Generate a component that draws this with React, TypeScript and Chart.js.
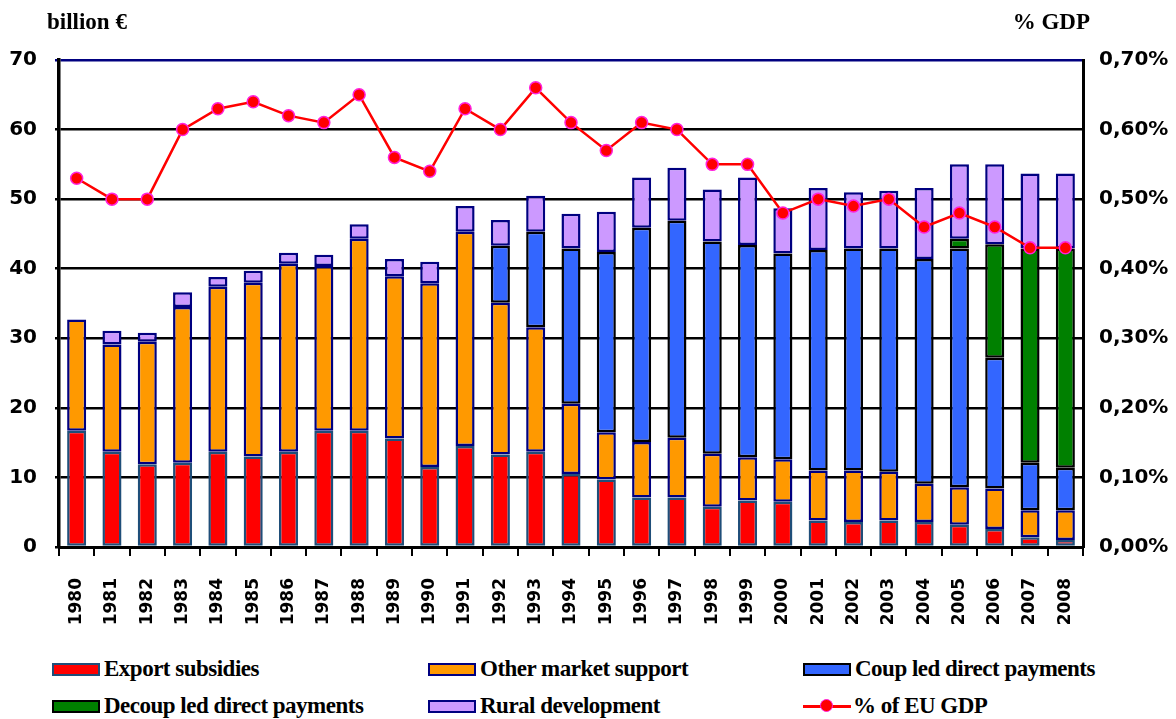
import React, { useEffect, useRef } from "react";
import { Chart, registerables } from "chart.js";

Chart.register(...registerables);

const years = [
  "1980", "1981", "1982", "1983", "1984", "1985", "1986", "1987", "1988", "1989",
  "1990", "1991", "1992", "1993", "1994", "1995", "1996", "1997", "1998", "1999",
  "2000", "2001", "2002", "2003", "2004", "2005", "2006", "2007", "2008",
];

const exportSubsidies = [
  16.7, 13.7, 11.9, 12.1, 13.7, 13.0, 13.7, 16.7, 16.7, 15.6,
  11.5, 14.5, 13.3, 13.7, 10.5, 9.7, 7.1, 7.1, 5.8, 6.7,
  6.5, 3.8, 3.6, 3.8, 3.6, 3.2, 2.6, 1.4, 1.0,
];

const otherMarketSupport = [
  16.0, 15.4, 17.6, 22.4, 23.7, 25.0, 27.0, 23.7, 27.6, 23.3,
  26.4, 30.8, 21.8, 17.9, 10.1, 6.8, 8.0, 8.6, 7.6, 6.2,
  6.1, 7.2, 7.4, 7.0, 5.5, 5.4, 5.8, 3.9, 4.3,
];

const coupledDirectPayments = [
  null, null, null, null, null, null, null, null, null, null,
  null, null, 8.2, 13.7, 22.3, 25.9, 30.8, 31.2, 30.5, 30.5,
  29.6, 31.7, 31.9, 32.1, 32.3, 34.3, 18.8, 6.8, 6.1,
];

const decoupledDirectPayments = [
  null, null, null, null, null, null, null, null, null, null,
  null, null, null, null, null, null, null, null, null, null,
  null, null, null, null, null, 1.4, 16.3, 30.8, 31.5,
];

const ruralDevelopment = [
  null, 2.0, 1.3, 2.1, 1.4, 1.7, 1.6, 1.6, 2.1, 2.5,
  3.1, 3.7, 3.7, 5.2, 5.0, 5.8, 7.2, 7.6, 7.5, 9.7,
  6.5, 8.9, 8.1, 8.3, 10.2, 10.7, 11.5, 10.8, 10.8,
];

const gdpShare = [
  0.53, 0.50, 0.50, 0.60, 0.63, 0.64, 0.62, 0.61, 0.65, 0.56,
  0.54, 0.63, 0.60, 0.66, 0.61, 0.57, 0.61, 0.60, 0.55, 0.55,
  0.48, 0.50, 0.49, 0.50, 0.46, 0.48, 0.46, 0.43, 0.43,
];

const CANVAS_W = 1176;
const CANVAS_H = 645;

const legendItems = [
  { label: "Export subsidies", fill: "#FF0000", border: "#1F4E79", type: "box", x: 52, y: 669 },
  { label: "Other market support", fill: "#FF9900", border: "#000080", type: "box", x: 428, y: 669 },
  { label: "Coup led direct payments", fill: "#3366FF", border: "#000000", type: "box", x: 803, y: 669 },
  { label: "Decoup led direct payments", fill: "#008000", border: "#000000", type: "box", x: 52, y: 706 },
  { label: "Rural development", fill: "#CC99FF", border: "#000080", type: "box", x: 428, y: 706 },
  { label: "% of EU GDP", fill: "#FF0000", border: "#FF0000", type: "line", x: 803, y: 706 },
];

const serif = "'Liberation Serif', 'DejaVu Serif', serif";
const sans = "'DejaVu Sans', sans-serif";

export default function App() {
  const canvasRef = useRef<HTMLCanvasElement | null>(null);

  useEffect(() => {
    const canvas = canvasRef.current;
    if (!canvas) return;
    const barCommon = {
      type: "bar" as const,
      yAxisID: "y",
      borderWidth: 2.5,
      borderSkipped: false as const,
      barPercentage: 0.54,
      categoryPercentage: 1,
      order: 1,
      stack: "cap",
    };
    const chart = new Chart(canvas, {
      data: {
        labels: years,
        datasets: [
          {
            label: "% of EU GDP",
            type: "line",
            yAxisID: "y1",
            data: gdpShare,
            borderColor: "#FF0000",
            backgroundColor: "#FF0000",
            borderWidth: 2.5,
            pointRadius: 6,
            pointBackgroundColor: "#FF0000",
            pointBorderColor: "#FF22DD",
            pointBorderWidth: 1.5,
            order: 0,
          } as any,
          { ...barCommon, label: "Export subsidies", data: exportSubsidies, backgroundColor: "#FF0000", borderColor: "#1F4E79" },
          { ...barCommon, label: "Other market support", data: otherMarketSupport, backgroundColor: "#FF9900", borderColor: "#000080" },
          { ...barCommon, label: "Coupled direct payments", data: coupledDirectPayments, backgroundColor: "#3366FF", borderColor: "#000000" },
          { ...barCommon, label: "Decoupled direct payments", data: decoupledDirectPayments, backgroundColor: "#008000", borderColor: "#000000" },
          { ...barCommon, label: "Rural development", data: ruralDevelopment, backgroundColor: "#CC99FF", borderColor: "#000080" },
        ],
      } as any,
      options: {
        responsive: false,
        animation: false,
        maintainAspectRatio: false,
        layout: { padding: { top: 60, left: 0, right: 0, bottom: 0 } },
        plugins: { legend: { display: false }, tooltip: { enabled: false } },
        scales: {
          x: {
            stacked: true,
            offset: true,
            grid: {
              offset: true,
              drawOnChartArea: false,
              color: "#000000",
              lineWidth: 2,
              tickLength: 9,
            },
            border: { color: "#000000", width: 3 },
            ticks: {
              minRotation: 90,
              maxRotation: 90,
              autoSkip: false,
              color: "#000000",
              padding: 22,
              font: { family: sans, weight: "bold", size: 17 },
            },
            afterFit: (s: any) => {
              s.height = CANVAS_H - 547;
            },
          },
          y: {
            stacked: true,
            position: "left",
            min: 0,
            max: 70,
            ticks: {
              stepSize: 10,
              color: "#000000",
              padding: 18,
              font: { family: sans, weight: "bold", size: 20 },
            },
            grid: {
              color: (ctx: any) => (ctx.tick && ctx.tick.value === 70 ? "#000080" : "#000000"),
              lineWidth: 2.5,
              tickLength: 4,
            },
            border: { color: "#000000", width: 3.5 },
            afterFit: (s: any) => {
              s.width = 59;
            },
          },
          y1: {
            position: "right",
            min: 0,
            max: 0.7,
            ticks: {
              stepSize: 0.1,
              color: "#000000",
              padding: 16,
              font: { family: sans, weight: "bold", size: 20 },
              callback: (v: any) => Number(v).toFixed(2).replace(".", ",") + "%",
            },
            grid: { drawOnChartArea: false, tickLength: 0 },
            border: { color: "#000000", width: 3 },
            afterFit: (s: any) => {
              s.width = CANVAS_W - 1083;
            },
          },
        },
      } as any,
    });
    return () => chart.destroy();
  }, []);

  return (
    <div
      style={{
        position: "absolute",
        left: 0,
        top: 0,
        width: CANVAS_W,
        height: 719,
        background: "#ffffff",
        overflow: "hidden",
      }}
    >
      <canvas
        ref={canvasRef}
        width={CANVAS_W}
        height={CANVAS_H}
        style={{ position: "absolute", left: 0, top: 0, width: CANVAS_W, height: CANVAS_H }}
      />
      <div
        style={{
          position: "absolute",
          left: 47,
          top: 9,
          font: `bold 23px ${serif}`,
          color: "#000",
          whiteSpace: "nowrap",
        }}
      >
        billion €
      </div>
      <div
        style={{
          position: "absolute",
          right: CANVAS_W - 1090,
          top: 9,
          font: `bold 23px ${serif}`,
          color: "#000",
          whiteSpace: "nowrap",
        }}
      >
        % GDP
      </div>
      {legendItems.map((it) => (
        <div
          key={it.label}
          style={{
            position: "absolute",
            left: it.x,
            top: it.y - 14,
            height: 28,
            display: "flex",
            alignItems: "center",
            whiteSpace: "nowrap",
          }}
        >
          {it.type === "box" ? (
            <div
              style={{
                width: 44,
                height: 9,
                background: it.fill,
                border: `2px solid ${it.border}`,
                marginRight: 4,
              }}
            />
          ) : (
            <div style={{ position: "relative", width: 48, height: 14, marginRight: 2 }}>
              <div
                style={{
                  position: "absolute",
                  left: 0,
                  top: 5.5,
                  width: 48,
                  height: 3,
                  background: "#FF0000",
                }}
              />
              <div
                style={{
                  position: "absolute",
                  left: 17,
                  top: 0,
                  width: 11,
                  height: 11,
                  borderRadius: "50%",
                  background: "#FF0000",
                  border: "1.5px solid #FF22DD",
                }}
              />
            </div>
          )}
          <span style={{ font: `bold 23px ${serif}`, color: "#000", letterSpacing: "-0.5px" }}>{it.label}</span>
        </div>
      ))}
    </div>
  );
}
